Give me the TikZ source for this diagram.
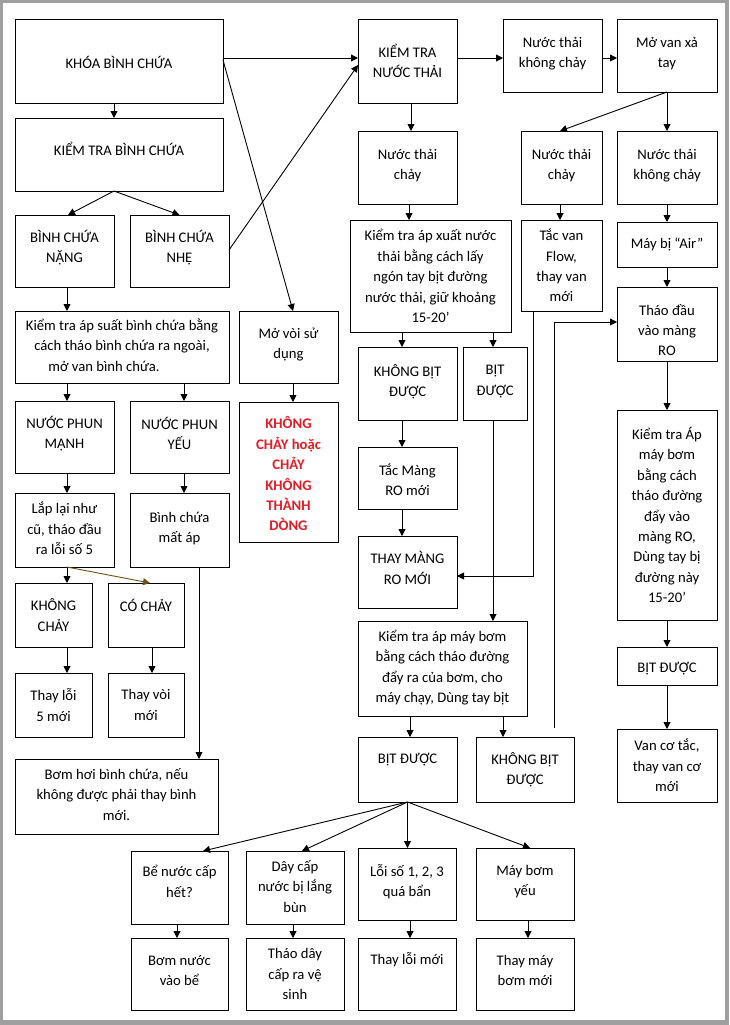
\documentclass[tikz,border=0pt]{standalone}
\usepackage{fontspec}
\setmainfont{Carlito}
\usetikzlibrary{arrows.meta}
\definecolor{frame}{RGB}{160,160,160}
\definecolor{redtxt}{RGB}{228,28,38}
\definecolor{brownarr}{RGB}{110,80,20}
\newcommand\bx[7][]{\node[box,minimum width={#5pt-#3pt},minimum height={#6pt-#4pt}] (#2) at ({(#3+#5)/2},{(#4+#6)/2}) {};
  \node[txt,#1] at (#2.center) {#7};}
\begin{document}
\begin{tikzpicture}[x=1pt,y=-1pt,
  font=\fontsize{14.67pt}{20.4pt}\selectfont,
  box/.style={draw=black,line width=0.9pt,inner sep=0pt,outer sep=0pt,fill=white},
  txt/.style={align=center,inner sep=0pt},
  arr/.style={-{Triangle[length=7pt,width=7pt]},line width=0.9pt},
  redbold/.style={text=redtxt,font=\fontsize{14.67pt}{20.4pt}\selectfont\bfseries}]
\fill[frame] (0,0) rectangle (729,1025);
\fill[white] (3,3) rectangle (725,1020);
\useasboundingbox (0,0) rectangle (729,1025);
% left column
\bx[yshift=-1pt]{khoa}{15}{19}{223}{103}{KHÓA BÌNH CHỨA}
\bx[yshift=6pt]{ktbc}{15}{118}{223}{191}{KIỂM TRA BÌNH CHỨA}
\bx[yshift=3.5pt]{nang}{15}{215}{114}{287}{BÌNH CHỨA\\NẶNG}
\bx[yshift=3.5pt]{nhe}{130}{215}{229}{287}{BÌNH CHỨA\\NHẸ}
\bx[yshift=2pt]{ktas}{15}{311}{229}{383}{Kiểm tra áp suất bình chứa bằng\\cách tháo bình chứa ra ngoài,\\mở van bình chứa.\hspace*{36pt}}
\bx[yshift=2.5pt]{movoi}{239}{311}{338}{383}{Mở vòi sử\\dụng}
\bx[yshift=3.5pt]{npm}{15}{401}{114}{473}{NƯỚC PHUN\\MẠNH}
\bx[yshift=3.5pt]{npy}{130}{401}{229}{473}{NƯỚC PHUN\\YẾU}
\bx[redbold,yshift=-2pt]{red}{239}{402}{338}{542}{KHÔNG\\CHẢY hoặc\\CHẢY\\KHÔNG\\THÀNH\\DÒNG}
\bx[yshift=1.5pt]{laplai}{15}{493}{114}{567}{Lắp lại như\\cũ, tháo đầu\\ra lỗi số 5}
\bx[yshift=1.5pt]{bcma}{130}{493}{229}{567}{Bình chứa\\mất áp}
\bx{kc}{15}{583}{92}{647}{KHÔNG\\CHẢY}
\bx[yshift=10pt]{cc}{108}{583}{184}{647}{CÓ CHẢY}
\bx{tl5}{15}{673}{92}{737}{Thay lỗi\\5 mới}
\bx{tvm}{108}{673}{184}{737}{Thay vòi\\mới}
\bx[yshift=2pt]{bomhoi}{15}{759}{218}{834}{Bơm hơi bình chứa, nếu\\không được phải thay bình\\mới.}
% middle / right
\bx{ktnt}{358}{19}{457}{103}{KIỂM TRA\\NƯỚC THẢI}
\bx[yshift=2pt]{ntkc1}{503}{19}{602}{92}{Nước thải\\không chảy}
\bx[yshift=2pt]{movan}{617}{19}{717}{92}{Mở van xả\\tay}
\bx[yshift=2pt]{ntc1}{358}{131}{457}{204}{Nước thải\\chảy}
\bx[yshift=2pt]{ntc2}{521}{131}{602}{204}{Nước thải\\chảy}
\bx[yshift=2pt]{ntkc2}{617}{131}{717}{204}{Nước thải\\không chảy}
\bx{ktax}{350}{220}{511}{332}{Kiểm tra áp xuất nước\\thải bằng cách lấy\\ngón tay bịt đường\\nước thải, giữ khoảng\\15-20’}
\bx{tacvan}{521}{220}{602}{311}{Tắc van\\Flow,\\thay van\\mới}
\bx{air}{617}{222}{717}{267}{Máy bị “Air”}
\bx[yshift=-6pt]{thaodau}{617}{287}{717}{361}{Tháo đầu\\vào màng\\RO}
\bx[yshift=2pt]{kbd1}{358}{347}{457}{420}{KHÔNG BỊT\\ĐƯỢC}
\bx[yshift=2pt]{bd1}{463}{347}{527}{420}{BỊT\\ĐƯỢC}
\bx[yshift=-1.5pt]{tacmang}{358}{447}{457}{509}{Tắc Màng\\RO mới}
\bx[yshift=4pt]{thaymang}{358}{536}{457}{608}{THAY MÀNG\\RO MỚI}
\bx{ktapr}{617}{410}{717}{620}{Kiểm tra Áp\\máy bơm\\bằng cách\\tháo đường\\đẩy vào\\màng RO,\\Dùng tay bị\\đường này\\15-20’}
\bx[yshift=-3pt]{bdr}{617}{647}{717}{685}{BỊT ĐƯỢC}
\bx{vanco}{617}{729}{717}{802}{Van cơ tắc,\\thay van cơ\\mới}
\bx[yshift=1pt]{ktamb}{358}{621}{527}{716}{Kiểm tra áp máy bơm\\bằng cách tháo đường\\đẩy ra của bơm, cho\\máy chạy, Dùng tay bịt}
\bx[yshift=9.5pt]{bd2}{358}{737}{457}{802}{BỊT ĐƯỢC}
\bx{kbd2}{476}{737}{574}{802}{KHÔNG BỊT\\ĐƯỢC}
% bottom rows
\bx[yshift=6pt]{be}{131}{851}{228}{924}{Bể nước cấp\\hết?}
\bx[yshift=1pt]{day}{246}{851}{344}{924}{Dây cấp\\nước bị lắng\\bùn}
\bx[yshift=2.5pt]{loi}{358}{848}{456}{920}{Lỗi số 1, 2, 3\\quá bẩn}
\bx[yshift=2.5pt]{maybom}{476}{848}{574}{920}{Máy bơm\\yếu}
\bx[yshift=3.5pt]{bomnuoc}{131}{938}{228}{1010}{Bơm nước\\vào bể}
\bx{thaoday}{246}{938}{344}{1010}{Tháo dây\\cấp ra vệ\\sinh}
\bx[yshift=14pt]{thayloi}{358}{938}{456}{1010}{Thay lỗi mới}
\bx[yshift=3.5pt]{thaymay}{476}{938}{574}{1010}{Thay máy\\bơm mới}
% connectors left
\draw[arr] ([xshift=-5pt]khoa.south) -- ([xshift=-5pt]ktbc.north);
\draw[arr] ([xshift=-5pt]ktbc.south) -- ([xshift=3.5pt]nang.north);
\draw[arr] ([xshift=-5pt]ktbc.south) -- (nhe.north);
\draw[arr] ([yshift=1pt]nhe.east) -- ([yshift=-4pt]ktnt.west);
\draw[arr] ([yshift=3pt]khoa.east) -- ([yshift=3pt]ktnt.west);
\draw[arr] ([yshift=1pt]khoa.east) -- ([xshift=4.5pt]movoi.north);
\draw[arr] ([xshift=2.5pt]nang.south) -- ([xshift=2.5pt]nang.south |- ktas.north);
\draw[arr] ([xshift=2.5pt]npm.north |- ktas.south) -- ([xshift=2.5pt]npm.north);
\draw[arr] ([xshift=4.5pt]npy.north |- ktas.south) -- ([xshift=4.5pt]npy.north);
\draw[arr] ([xshift=4.5pt]movoi.south) -- ([xshift=4.5pt]red.north);
\draw[arr] ([xshift=2.5pt]npm.south) -- ([xshift=2.5pt]laplai.north);
\draw[arr] ([xshift=4.5pt]npy.south) -- ([xshift=4.5pt]bcma.north);
\draw[arr] ([xshift=2.5pt]laplai.south) -- ([xshift=2.5pt]laplai.south |- kc.north);
\draw[arr,draw=brownarr,-{Triangle[length=7pt,width=7pt,fill=brownarr]}] ([xshift=2.5pt]laplai.south) -- ([xshift=4pt]cc.north);
\draw[arr] ([xshift=13.5pt]kc.south) -- ([xshift=13.5pt]tl5.north);
\draw[arr] ([xshift=6pt]cc.south) -- ([xshift=6pt]tvm.north);
\draw[arr] ([xshift=19.5pt]bcma.south) -- ([xshift=19.5pt]bcma.south |- bomhoi.north);
% connectors right
\draw[arr] ([yshift=3pt]ktnt.east) -- ([yshift=3pt]ktnt.east -| ntkc1.west);
\draw[arr] ([yshift=-2.5pt]ntkc1.east) -- ([yshift=-2.5pt]movan.west);
\draw[arr] (movan.south) -- ([xshift=-1.5pt]ntc2.north);
\draw[arr] (movan.south) -- (ntkc2.north);
\draw[arr] ([xshift=3.5pt]ktnt.south) -- ([xshift=3.5pt]ntc1.north);
\draw[arr] ([xshift=1.5pt]ntc1.south) -- ([xshift=1.5pt]ntc1.south |- ktax.north);
\draw[arr] ([xshift=-1.5pt]ntc2.south) -- ([xshift=-1.5pt]tacvan.north);
\draw[arr] (ntkc2.south) -- (air.north);
\draw[arr] (air.south) -- (thaodau.north);
\draw[arr] (thaodau.south) -- (ktapr.north);
\draw[arr] (ktapr.south) -- (bdr.north);
\draw[arr] (bdr.south) -- (vanco.north);
\draw[arr] ([xshift=-5.5pt]kbd1.north |- ktax.south) -- ([xshift=-5.5pt]kbd1.north);
\draw[arr] ([xshift=-2pt]bd1.north |- ktax.south) -- ([xshift=-2pt]bd1.north);
\draw[arr] ([xshift=-5.5pt]kbd1.south) -- ([xshift=-5.5pt]tacmang.north);
\draw[arr] ([xshift=-5.5pt]tacmang.south) -- ([xshift=-5.5pt]thaymang.north);
\draw[arr] ([xshift=-28.5pt]tacvan.south) |- ([yshift=-4pt]thaymang.east);
\draw[arr] ([xshift=-2pt]bd1.south) -- ([xshift=-2pt]bd1.south |- ktamb.north);
\draw[arr] ([xshift=29pt,yshift=9pt]kbd2.north) |- ([yshift=2pt]thaodau.west);
\draw[arr] ([xshift=2.5pt]bd2.north |- ktamb.south) -- ([xshift=2.5pt]bd2.north);
\draw[arr] ([xshift=-22pt]kbd2.north |- ktamb.south) -- ([xshift=-22pt]kbd2.north);
% fan from BIT DUOC
\draw[arr] (bd2.south) -- ([xshift=23.5pt]be.north);
\draw[arr] (bd2.south) -- ([xshift=7pt]day.north);
\draw[arr] (bd2.south) -- (bd2.south |- loi.north);
\draw[arr] (bd2.south) -- ([xshift=5pt]maybom.north);
\draw[arr] ([xshift=-2.5pt]be.south) -- ([xshift=-2.5pt]bomnuoc.north);
\draw[arr] ([xshift=-2pt]day.south) -- ([xshift=-2pt]thaoday.north);
\draw[arr] ([xshift=3pt]loi.south) -- ([xshift=3pt]thayloi.north);
\draw[arr] ([xshift=3pt]maybom.south) -- ([xshift=3pt]thaymay.north);
\end{tikzpicture}
\end{document}
